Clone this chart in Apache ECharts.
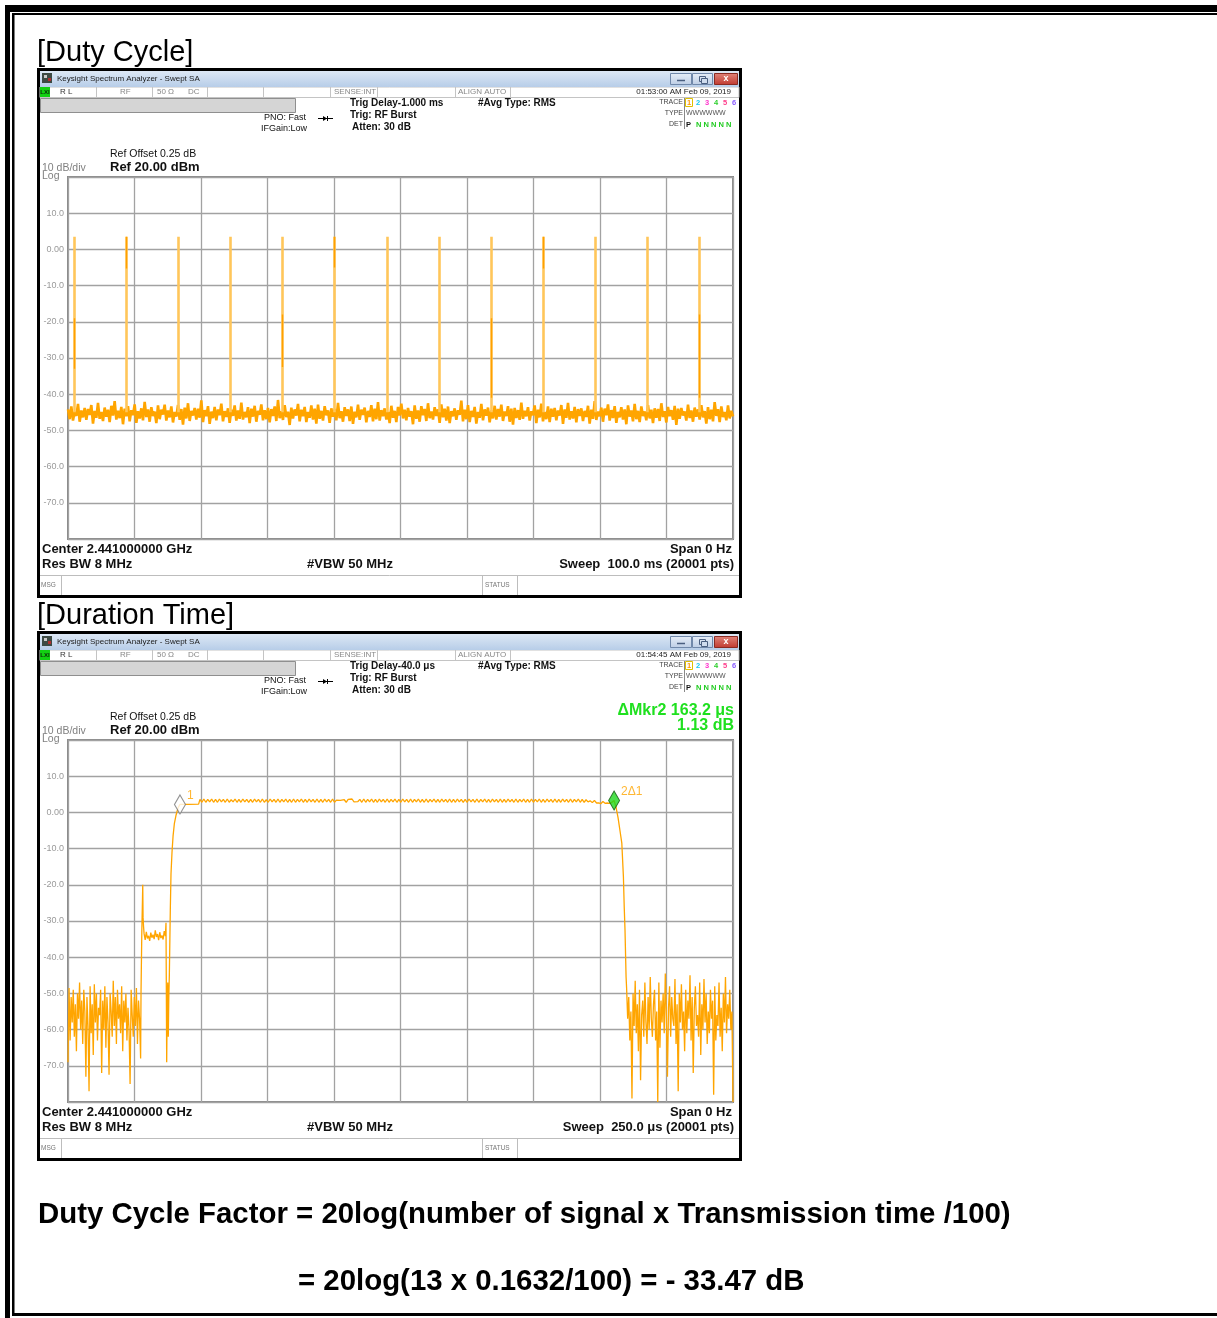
<!DOCTYPE html>
<html><head><meta charset="utf-8">
<script src="https://cdn.jsdelivr.net/npm/echarts/dist/echarts.min.js"></script>
<style>html,body{margin:0;padding:0;background:#fff}#c{width:1217px;height:1318px}</style>
</head><body><div id="c"></div>
<script>
// ---------------- DATA ----------------
const yMin = -80, yMax = 20, yStep = 10;          // 10 dB/div, Ref 20 dBm
const dutySpanMs = 100;                            // sweep 100 ms
const durSpanUs = 250;                             // sweep 250 us

// Duty cycle: burst positions (ms) and their peak level (dBm)
const dutySpikeTimes = [0.95, 8.77, 16.65, 24.47, 32.28, 40.11, 47.97, 55.79, 63.61, 71.43, 79.29, 87.10, 94.93];
const dutySpikeTop = 3.5;
const dutySpikeBase = -45;
// darker portions of some bursts: [time, upper dBm, lower dBm]
const dutySpikeDark = [[0.95,-19,-33],[8.77,3.5,-5.3],[32.28,-18,-32.5],[40.11,3.5,-5],[63.61,-19,-41],[71.43,3.5,-5.3],[94.93,-18,-41]];
// Duty cycle noise floor (dBm), evenly swept over 0..100 ms
const dutyNoise = [
-44.2,-46.9,-43.4,-47.3,-44.8,-46.0,-42.7,-47.6,-44.5,-46.4,
-43.8,-47.1,-44.1,-45.7,-43.0,-48.1,-44.6,-46.5,-42.4,-46.8,
-44.9,-47.4,-43.7,-46.2,-44.3,-47.7,-43.2,-45.9,-41.9,-47.0,
-44.6,-46.6,-43.5,-48.3,-44.0,-46.1,-43.3,-47.5,-44.4,-45.8,
-42.8,-47.9,-44.7,-46.7,-43.9,-47.2,-42.1,-46.3,-44.2,-47.6,
-43.6,-46.0,-44.8,-48.0,-43.1,-46.9,-44.3,-45.6,-42.9,-47.3,
-44.5,-46.4,-43.4,-47.8,-44.9,-46.2,-43.0,-47.1,-44.1,-48.4,
-43.7,-46.7,-42.5,-47.4,-44.6,-45.9,-43.8,-47.0,-44.0,-46.5,
-41.7,-47.7,-44.4,-46.1,-43.3,-48.2,-44.8,-46.6,-43.5,-47.2,
-44.2,-45.8,-42.6,-47.5,-44.7,-46.3,-43.9,-47.9,-44.3,-46.0,
-43.1,-47.3,-44.5,-46.8,-42.3,-47.0,-44.9,-46.4,-43.6,-48.0,
-44.0,-46.2,-43.2,-47.6,-44.6,-45.7,-42.8,-47.2,-44.4,-46.9,
-43.8,-47.8,-44.1,-46.0,-43.4,-47.4,-41.6,-46.6,-44.7,-47.1,
-43.0,-46.3,-44.8,-48.5,-43.7,-46.7,-44.2,-45.9,-42.7,-47.5,
-44.3,-46.1,-43.5,-47.7,-44.9,-46.5,-43.1,-47.0,-44.0,-48.1,
-42.9,-46.8,-44.6,-47.3,-43.3,-45.8,-44.5,-47.9,-43.9,-46.2,
-44.1,-47.2,-42.4,-46.6,-44.7,-47.6,-43.6,-46.0,-44.2,-47.4,
-43.4,-48.2,-44.8,-46.4,-42.9,-47.1,-44.3,-45.7,-43.7,-47.8,
-44.6,-46.3,-43.0,-47.5,-44.0,-46.9,-42.2,-47.3,-44.4,-46.1,
-43.9,-47.0,-44.9,-48.0,-43.2,-46.5,-44.6,-47.7,-43.5,-45.9,
-42.6,-46.7,-44.3,-47.2,-43.8,-46.2,-44.7,-48.3,-43.1,-46.8,
-44.5,-47.6,-43.3,-45.8,-44.1,-47.4,-42.5,-46.6,-44.8,-47.0,
-43.6,-46.0,-44.2,-47.9,-42.8,-46.4,-44.0,-47.3,-43.4,-48.0,
-44.7,-46.1,-43.9,-47.1,-44.4,-45.7,-41.8,-47.5,-44.3,-46.9,
-43.0,-47.7,-44.6,-46.3,-43.5,-48.1,-44.9,-46.5,-42.7,-47.2,
-44.2,-45.9,-43.7,-47.8,-44.5,-46.7,-43.2,-47.0,-44.1,-46.2,
-42.9,-47.4,-44.8,-46.0,-43.3,-47.6,-44.0,-48.4,-43.8,-46.6,
-44.4,-47.1,-42.3,-46.8,-44.6,-46.1,-43.6,-47.3,-44.7,-45.8,
-43.1,-48.0,-44.3,-46.4,-42.6,-47.5,-44.9,-46.9,-43.4,-47.7,
-44.0,-46.2,-43.8,-47.2,-44.5,-45.9,-43.0,-48.2,-44.2,-46.5,
-42.4,-47.0,-44.7,-46.7,-43.5,-47.8,-44.1,-46.0,-43.9,-47.4,
-44.6,-46.3,-43.2,-48.1,-44.3,-46.8,-41.9,-47.1,-44.8,-46.1,
-43.7,-47.6,-44.0,-45.8,-42.8,-47.3,-44.4,-46.6,-43.3,-47.9,
-44.9,-46.4,-43.6,-47.0,-44.2,-48.3,-43.1,-46.2,-44.5,-47.5,
-42.7,-46.9,-44.6,-47.7,-43.4,-46.0,-44.8,-47.2,-43.0,-46.7,
-44.3,-48.0,-43.9,-46.5,-44.1,-47.4,-42.5,-46.3,-44.7,-47.8,
-43.5,-46.1,-44.4,-47.1,-43.2,-48.5,-44.0,-46.8,-43.8,-45.9,
-44.8,-47.3,-42.9,-46.6,-44.5,-47.6,-43.7,-46.2,-44.2,-47.0,
-43.0,-46.4,-44.7,-48.1,-43.6,-46.9,-44.3,-47.5,-42.2,-46.0,
-44.1,-47.7,-43.4,-46.3,-44.9,-47.2,-43.1,-46.7,-44.6,-46.1];

// Duration time trace (us / dBm)
const durPreEnd = 27.3;   // noise before the burst, evenly swept 0..27.3 us
const durPre = [
-69,-48.5,-63,-51,-58,-49,-62,-53,-66,-50,
-57,-47,-60,-52,-64,-49,-55,-73,-51,-59,
-77,-48,-61,-53,-67,-47.5,-58,-50,-63,-54,
-56,-49,-72,-52,-60,-48,-65,-51,-58,-72.5,
-50,-55,-62,-46.5,-59,-51,-64,-49,-57,-53,
-61,-48,-66,-52,-58,-50,-63,-54,-60,-75,
-49,-56,-62,-51,-59,-48.5,-64,-52,-57,-68];
const durBurstEdge = [[27.45,-50],[27.75,-33],[28.0,-24],[28.1,-20],[28.22,-29],[28.4,-31.5]];
const durPlateauStart = 28.6, durPlateauEnd = 36.6;
const durPlateau = [-33.5,-35.2,-33.0,-34.8,-34.1,-35.5,-33.2,-34.6,-33.8,-35.0,-32.6,-34.4,-33.6,-35.3,-33.1,-34.7,-34.0,-35.1,-32.8,-34.2];
const durRiseEdge = [[36.84,-30.5],[36.95,-46],[37.1,-69],[37.3,-52],[37.5,-47],[37.7,-62],[37.9,-51],[38.1,-45],[38.3,-35],[38.46,-27],[38.72,-17],[39.1,-11],[39.5,-6.5],[40.0,-3],[40.6,-0.8],[41.35,1.2],[42.1,2.2],[45.5,2.2],[49.1,2.3]];
const durRippleStart = 49.6, durRippleEnd = 195.5;
const durRipple = [
3.6,2.8,3.7,2.8,3.6,2.9,3.7,2.8,3.6,2.8,
3.7,2.9,3.6,2.8,3.7,2.8,3.5,2.9,3.7,2.8,
3.6,2.8,3.7,2.9,3.6,2.8,3.6,2.8,3.7,2.9,
3.6,2.8,3.7,2.8,3.5,2.8,3.7,2.9,3.6,2.8,
3.7,2.8,3.6,2.9,3.7,2.8,3.6,2.8,3.7,2.8,
3.6,2.9,3.7,2.8,3.6,2.8,3.7,2.9,3.6,2.8,
3.7,2.8,3.6,2.8,3.7,2.9,3.6,2.8,3.7,2.8,
3.4,3.0,3.3,2.9,3.5,2.8,3.6,3.1,3.7,2.9,
3.2,3.0,3.6,2.8,3.7,2.8,3.6,2.9,3.7,2.8,
3.6,2.8,3.7,2.9,3.6,2.8,3.7,2.8,3.6,2.9,
3.7,2.8,3.6,2.8,3.7,2.9,3.6,2.8,3.7,2.8,
3.6,2.9,3.7,2.8,3.6,2.8,3.7,2.8,3.6,2.9,
3.7,2.8,3.6,2.8,3.7,2.9,3.6,2.8,3.7,2.8,
3.6,2.8,3.7,2.9,3.6,2.8,3.6,2.8,3.7,2.9,
3.6,2.8,3.7,2.8,3.6,2.9,3.7,2.8,3.6,2.8,
3.7,2.9,3.6,2.8,3.7,2.8,3.6,2.8,3.7,2.9,
3.6,2.8,3.7,2.8,3.6,2.9,3.7,2.8,3.6,2.8,
3.7,2.8,3.6,2.9,3.7,2.8,3.6,2.8,3.7,2.9,
3.6,2.8,3.7,2.8,3.6,2.8,3.7,2.9,3.6,2.8,
3.7,2.8,3.6,2.9,3.7,2.8,3.6,2.8,3.5,2.9];
const durTail = [[196.3,3.2],[197.1,2.7],[197.9,3.3],[198.7,2.6],[199.5,2.6],[200.3,2.4],[201.1,3.0],[201.9,2.5],[202.7,2.6],[203.5,2.5],[204.3,2.7],[205.3,3.3]];
const durFallEdge = [[206.0,1.5],[206.8,-1.5],[207.5,-5],[208.2,-8.5],[208.8,-17.8],[209.1,-26],[209.4,-32.5],[209.6,-39],[209.8,-45.4]];
const durPostStart = 210.0;   // noise after the burst, evenly swept to 250 us
const durPost = [
-48.5,-57,-51,-63,-55,-79,-50,-59,-46.5,-61,
-53,-66,-49,-74,-56,-52,-62,-47,-58,-64,
-51,-60,-45.5,-57,-62,-53,-49,-63,-55,-80,
-47,-65,-52,-58,-50,-61,-44.5,-56,-73,-54,
-48,-62,-51,-57,-59,-46,-64,-53,-77,-50,
-58,-47.5,-60,-55,-66,-49,-61,-52,-57,-45,
-63,-51,-72,-54,-48,-59,-56,-62,-47,-67,
-53,-60,-46,-58,-50,-64,-55,-61,-49,-57,
-52,-78,-48,-63,-56,-59,-47,-62,-54,-66,
-50,-58,-45.5,-61,-53,-57,-49,-60,-55,-80];
const durMarkers = [{label:'1', t:42.1, v:2.2, delta:false}, {label:'2\u03941', t:205.3, v:3.3, delta:true}];

// ---------------- BUILD ----------------
const TRACE = '#ffa500';
const dutyNoiseData = dutyNoise.map((v,i)=>[i*dutySpanMs/(dutyNoise.length-1), v]);
const spikeLines = dutySpikeTimes.map(t=>({coords:[[t,dutySpikeBase],[t,dutySpikeTop]]}));
const darkLines = dutySpikeDark.map(d=>({coords:[[d[0],d[1]],[d[0],d[2]]]}));

const durData = [];
durPre.forEach((v,i)=>durData.push([i*durPreEnd/(durPre.length-1), v]));
durBurstEdge.forEach(p=>durData.push(p));
durPlateau.forEach((v,i)=>durData.push([durPlateauStart+i*(durPlateauEnd-durPlateauStart)/(durPlateau.length-1), v]));
durRiseEdge.forEach(p=>durData.push(p));
durRipple.forEach((v,i)=>durData.push([durRippleStart+i*(durRippleEnd-durRippleStart)/(durRipple.length-1), v]));
durTail.forEach(p=>durData.push(p));
durFallEdge.forEach(p=>durData.push(p));
durPost.forEach((v,i)=>durData.push([durPostStart+i*(durSpanUs-durPostStart)/(durPost.length-1), v]));

const SANS = '"Liberation Sans", Arial, sans-serif';
const G = [];
function T(text,x,y,font,fill,align,z){G.push({type:'text',z:z||20,silent:true,style:{text,x,y,font:font+' '+SANS,fill:fill||'#000',align:align||'left',verticalAlign:'middle'}});}
function R(x,y,w,h,fill,stroke,lw,z){G.push({type:'rect',z:z||10,silent:true,shape:{x,y,width:w,height:h},style:{fill:fill||'none',stroke:stroke||null,lineWidth:lw||1}});}
function L(x1,y1,x2,y2,stroke,lw,z){G.push({type:'line',z:z||12,silent:true,shape:{x1,y1,x2,y2},style:{stroke,lineWidth:lw||1}});}
function P(pts,fill,z){G.push({type:'polygon',z:z||12,silent:true,shape:{points:pts},style:{fill}});}

// page frame
R(5,5,1212,7,'#000');
R(5,5,5,1313,'#000');
R(13,13,1204,2,'#000');
R(12,13,2.5,1303,'#000');
R(12,1313,1205,3,'#000');

function screen(o, s){
  // window frame (no fill so the plot grid stays visible)
  R(38.5,69.5+o,702,527,'none','#000',3,8);
  // title bar
  R(40,71+o,699,16,new echarts.graphic.LinearGradient(0,0,0,1,[{offset:0,color:'#dde8f5'},{offset:1,color:'#b7cde8'}]));
  R(42,73+o,10,10,'#3d4a44'); R(44,75+o,3,3,'#c9c9c9'); R(48,78+o,3,3,'#b03030');
  T('Keysight Spectrum Analyzer - Swept SA',57,78.5+o,'8px','#1a1a1a');
  const btn = new echarts.graphic.LinearGradient(0,0,0,1,[{offset:0,color:'#e7eef8'},{offset:1,color:'#bccde5'}]);
  R(670.5,73.5+o,21,11,btn,'#7088aa',1,11);
  R(692.5,73.5+o,20,11,btn,'#7088aa',1,11);
  R(714.5,73.5+o,23,11,new echarts.graphic.LinearGradient(0,0,0,1,[{offset:0,color:'#e0857b'},{offset:1,color:'#c0392f'}]),'#8a2a22',1,11);
  L(677,80.5+o,685,80.5+o,'#4a5f80',1.5,13);
  R(699.5,76.5+o,6,5,'none','#4a5f80',1,13); R(701.5,78.5+o,6,5,'#cfdcee','#4a5f80',1,14);
  T('x',726,78.5+o,'bold 9px','#fff','center');
  // status row
  R(40,87+o,699,10.5,'#fff','#c4c4c4',1,9);
  R(40,87+o,10,10,'#12d012',null,1,10);
  T('LXI',45,92+o,'bold 6px','#0a2a0a','center');
  [96,152,207,263,330,377,455,510].forEach(x=>L(x+0.5,87+o,x+0.5,97+o,'#c4c4c4',1,11));
  T('R L',60,92+o,'8px','#333');
  T('RF',120,92+o,'8px','#888');
  T('50 \u03a9',157,92+o,'8px','#888');
  T('DC',188,92+o,'8px','#888');
  T('SENSE:INT',334,92+o,'8px','#888');
  T('ALIGN AUTO',458,92+o,'8px','#888');
  T(s.time,731,92+o,'8px','#222','right');
  // grey bar
  R(40.5,98.5+o,255,14,'#d5d5d5','#8f8f8f',1,10);
  // setup texts
  T('PNO: Fast',264,118+o,'9px','#111');
  T('IFGain:Low',261,129+o,'9px','#111');
  L(318,118.5+o,333,118.5+o,'#000',1,13);
  P([[323,116+o],[327,118.5+o],[323,121+o]],'#000');
  L(327.5,116+o,327.5,121+o,'#000',1,13);
  T(s.trig,350,103+o,'bold 10px','#111');
  T('Trig: RF Burst',350,115+o,'bold 10px','#111');
  T('Atten: 30 dB',352,127+o,'bold 10px','#111');
  T('#Avg Type: RMS',478,103+o,'bold 10px','#111');
  // trace table
  T('TRACE',683,102+o,'7px','#444','right');
  T('TYPE',683,113+o,'7px','#444','right');
  T('DET',683,124+o,'7px','#444','right');
  L(684.5,98+o,684.5,129+o,'#888',1,13);
  R(685.5,98.5+o,7,8,'none','#e0c000',1,13);
  const tc = ['#ff9900','#19c8f0','#ff33cc','#2ccf2c','#ff3b8a','#8a5cff'];
  tc.forEach((c,i)=>T(String(i+1),689+i*9,102.5+o,'bold 7.5px',c,'center'));
  T('WWWWWW',686,113.5+o,'7px','#555');
  T('P',686,124.5+o,'bold 7.5px','#111');
  T('N N N N N',696,124.5+o,'bold 7.5px','#22cc22');
  // reference texts
  T('Ref Offset 0.25 dB',110,154+o,'10.5px','#111');
  T('Ref 20.00 dBm',110,167+o,'bold 13px','#111');
  T('10 dB/div',42,168+o,'10.5px','#808080');
  T('Log',42,176.5+o,'10.5px','#808080');
  if (s.delta){
    T(s.delta[0],734,148+o,'bold 16px','#1fe01f','right');
    T(s.delta[1],734,163+o,'bold 16px','#1fe01f','right');
  }
  // bottom annotation
  T('Center 2.441000000 GHz',42,549+o,'bold 13px','#111');
  T('Res BW 8 MHz',42,564+o,'bold 13px','#111');
  T('#VBW 50 MHz',307,564+o,'bold 13px','#111');
  T('Span 0 Hz',732,549+o,'bold 13px','#111','right');
  T(s.sweep,734,564+o,'bold 13px','#111','right');
  // message bar
  L(40,575.5+o,739,575.5+o,'#bdbdbd',1,13);
  L(61.5,576+o,61.5,595+o,'#bdbdbd',1,13);
  L(482.5,576+o,482.5,595+o,'#bdbdbd',1,13);
  L(517.5,576+o,517.5,595+o,'#bdbdbd',1,13);
  T('MSG',41,585+o,'6.5px','#777');
  T('STATUS',485,585+o,'6.5px','#777');
}
screen(0,{time:'01:53:00 AM Feb 09, 2019',trig:'Trig Delay-1.000 ms',sweep:'Sweep  100.0 ms (20001 pts)'});
screen(563,{time:'01:54:45 AM Feb 09, 2019',trig:'Trig Delay-40.0 \u03bcs',sweep:'Sweep  250.0 \u03bcs (20001 pts)',delta:['\u0394Mkr2 163.2 \u03bcs','1.13 dB']});

// headings and formula
T('[Duty Cycle]',37,53,'29px','#000');
T('[Duration Time]',37,616,'29px','#000');
T('Duty Cycle Factor = 20log(number of signal x Transmission time /100)',38,1215,'bold 29.4px','#000');
T('= 20log(13 x 0.1632/100) = - 33.47 dB',298,1282,'bold 29.4px','#000');

const yLab = v => (v===yMax||v===yMin) ? '' : (v===0 ? '0.00' : v.toFixed(1));
function xAx(idx,max,interval){return {type:'value',gridIndex:idx,min:0,max,interval,axisLabel:{show:false},axisTick:{show:false},axisLine:{show:false},splitLine:{show:true,lineStyle:{color:'#a2a2a2',width:1.3}}};}
function yAx(idx){return {type:'value',gridIndex:idx,min:yMin,max:yMax,interval:yStep,axisTick:{show:false},axisLine:{show:false},
  axisLabel:{formatter:yLab,color:'#9a9a9a',fontSize:9,margin:4,fontFamily:'Liberation Sans'},splitLine:{show:true,lineStyle:{color:'#a2a2a2',width:1.3}}};}

const option = {
  animation:false,
  backgroundColor:'#fff',
  grid:[
    {left:68,top:177,width:665,height:362,show:true,borderColor:'#8a8a8a',borderWidth:2,containLabel:false},
    {left:68,top:740,width:665,height:362,show:true,borderColor:'#8a8a8a',borderWidth:2,containLabel:false}
  ],
  xAxis:[xAx(0,dutySpanMs,dutySpanMs/10), xAx(1,durSpanUs,durSpanUs/10)],
  yAxis:[yAx(0), yAx(1)],
  series:[
    {type:'line',xAxisIndex:0,yAxisIndex:0,data:dutyNoiseData,showSymbol:false,symbol:'none',z:20,lineStyle:{color:TRACE,width:2.6},silent:true},
    {type:'lines',coordinateSystem:'cartesian2d',xAxisIndex:0,yAxisIndex:0,data:spikeLines,z:21,lineStyle:{color:'#ffc65a',width:2.6,opacity:1},silent:true},
    {type:'lines',coordinateSystem:'cartesian2d',xAxisIndex:0,yAxisIndex:0,data:darkLines,z:22,lineStyle:{color:'#ffa000',width:1.4,opacity:1},silent:true},
    {type:'line',xAxisIndex:1,yAxisIndex:1,data:durData,showSymbol:false,symbol:'none',z:20,lineStyle:{color:TRACE,width:1.3},silent:true},
    {type:'scatter',xAxisIndex:1,yAxisIndex:1,z:30,symbol:'diamond',symbolSize:[11,19],silent:true,
     data:durMarkers.map(m=>({value:[m.t,m.v],itemStyle:m.delta?{color:'#1ed81e',borderColor:'#0d5a0d',borderWidth:1}:{color:'#ffffff',borderColor:'#777',borderWidth:1.2},
       label:{show:true,formatter:m.label,position:'right',distance:1,offset:[0,-9],color:TRACE,fontSize:12,fontFamily:'Liberation Sans'}}))}
  ],
  graphic:{elements:G}
};
const chart = echarts.init(document.getElementById('c'));
chart.setOption(option);
</script></body></html>
